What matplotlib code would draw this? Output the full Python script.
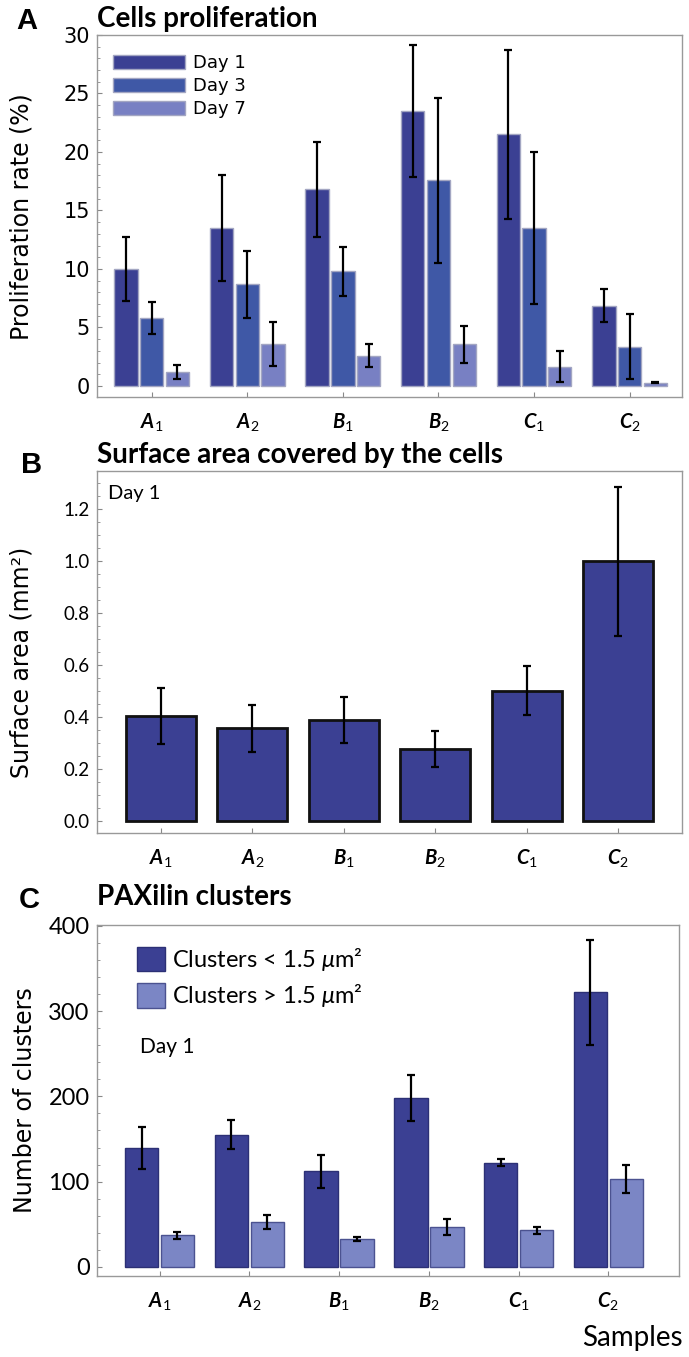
import matplotlib

matplotlib.use('Agg')
import matplotlib.pyplot as plt
from matplotlib.patches import Patch
from matplotlib.ticker import MultipleLocator, FormatStrFormatter
import numpy as np

# Fonts: DejaVu stands in for Verdana, Lato for Calibri
plt.rcParams['font.family'] = ['DejaVu Sans']
plt.rcParams['mathtext.fontset'] = 'custom'
plt.rcParams['mathtext.rm'] = 'Lato'
plt.rcParams['mathtext.it'] = 'Lato:italic'
plt.rcParams['mathtext.bf'] = 'Lato:bold'
plt.rcParams['mathtext.bfit'] = 'Lato:bold:italic'

# Data
samples = ['A1', 'A2', 'B1', 'B2', 'C1', 'C2']
sample_labels = [r'$\mathbfit{A}_{\mathrm{1}}$', r'$\mathbfit{A}_{\mathrm{2}}$',
                 r'$\mathbfit{B}_{\mathrm{1}}$', r'$\mathbfit{B}_{\mathrm{2}}$',
                 r'$\mathbfit{C}_{\mathrm{1}}$', r'$\mathbfit{C}_{\mathrm{2}}$']

# Panel A: proliferation rate (%)
prolif_day1 = [10.0, 13.5, 16.8, 23.5, 21.5, 6.85]
prolif_day1_err = [2.7, 4.5, 4.05, 5.65, 7.2, 1.4]
prolif_day3 = [5.8, 8.7, 9.8, 17.6, 13.5, 3.35]
prolif_day3_err = [1.4, 2.85, 2.1, 7.05, 6.5, 2.77]
prolif_day7 = [1.2, 3.6, 2.6, 3.55, 1.65, 0.28]
prolif_day7_err = [0.6, 1.9, 0.95, 1.6, 1.3, 0.07]
day_labels = ['Day 1', 'Day 3', 'Day 7']

# Panel B: surface area (mm2), day 1
area = [0.405, 0.356, 0.388, 0.276, 0.501, 1.0]
area_err = [0.108, 0.09, 0.09, 0.07, 0.094, 0.288]

# Panel C: paxilin clusters, day 1
clusters_small = [139, 155, 112, 198, 122, 322]
clusters_small_err = [24.7, 17, 19, 27.2, 4.2, 61.7]
clusters_large = [37, 53, 33, 47, 43, 103.5]
clusters_large_err = [4, 8, 2.6, 9, 4.2, 16.3]
cluster_labels = [r'Clusters < 1.5 $\mu$m²', r'Clusters > 1.5 $\mu$m²']

# Colours
DARK = '#3b4093'
MID = '#3f58a6'
LIGHT = '#7880c3'
LIGHT_C = '#7b86c5'
FRAME = '#999999'
CALIBRI = 'Lato'

W, H = 689, 1357


def axesRect(left, top, right, bottom):
    # pixel box -> figure fraction
    return [left / W, 1 - bottom / H, (right - left) / W, (bottom - top) / H]


def styleAxes(ax, major, minor, tick_font, tick_size):
    for sp in ax.spines.values():
        sp.set_color(FRAME)
        sp.set_linewidth(1.0)
    ax.yaxis.set_major_locator(MultipleLocator(major))
    ax.yaxis.set_minor_locator(MultipleLocator(minor))
    ax.tick_params(axis='both', which='major', direction='in', color='#888888',
                   length=3.5, width=0.8, right=False, top=False)
    ax.tick_params(axis='both', which='minor', direction='in', color='#888888',
                   length=2, width=0.6, right=False, top=False)
    ax.tick_params(axis='y', which='major', pad=5, labelsize=tick_size)
    for lab in ax.get_yticklabels():
        lab.set_family(tick_font)
    ax.set_xticks(np.arange(len(samples)))
    ax.set_xticklabels(sample_labels, fontsize=14.5)
    ax.tick_params(axis='x', which='major', pad=10)


def panelTitle(ax, text, dy):
    ax.annotate(text, (0, 1), (0, dy), xycoords='axes fraction', textcoords='offset pixels',
                ha='left', va='baseline', fontsize=20, fontweight='bold', family=CALIBRI)


def panelLetter(fig, letter, x, y):
    fig.text(x / W, 1 - y / H, letter, ha='left', va='baseline', fontsize=21,
             fontweight='bold', family='Liberation Sans')


fig = plt.figure(figsize=(W / 100, H / 100), dpi=100)
x = np.arange(len(samples))
err_kw = dict(ecolor='black', elinewidth=1.6, capsize=2.6, capthick=1.6)

# ---- Panel A
axA = fig.add_axes(axesRect(96.7, 35, 681.7, 397.3))
bw = 0.244
off = 0.269
series = [(prolif_day1, prolif_day1_err, DARK), (prolif_day3, prolif_day3_err, MID),
          (prolif_day7, prolif_day7_err, LIGHT)]
handles = []
for i, (vals, errs, col) in enumerate(series):
    axA.bar(x + (i - 1) * off, vals, bw, color=col, edgecolor='#a3a6c2', linewidth=1.0,
            yerr=errs, error_kw=err_kw, zorder=2)
    handles.append(Patch(facecolor=col, edgecolor='#a3a6c2', linewidth=1.0, label=day_labels[i]))
axA.set_xlim(-0.575, 5.544)
axA.set_ylim(-0.97, 30)
styleAxes(axA, 5, 1, 'DejaVu Sans', 15)
axA.set_ylabel('Proliferation rate (%)', fontsize=17)
axA.yaxis.set_label_coords(-0.108, 0.5)
axA.legend(handles=handles, loc='upper left', bbox_to_anchor=(0.028, 0.947), frameon=False,
           fontsize=13, handlelength=4.0, handleheight=0.82, labelspacing=0.27,
           handletextpad=0.45, borderpad=0, borderaxespad=0)
panelTitle(axA, 'Cells proliferation', 8)
panelLetter(fig, 'A', 16, 29)

# ---- Panel B
axB = fig.add_axes(axesRect(96.7, 470.7, 682.3, 832.7))
axB.bar(x, area, 0.77, color=DARK, edgecolor='#111111', linewidth=2.0,
        yerr=area_err, error_kw=err_kw, zorder=2)
axB.set_xlim(-0.70, 5.70)
axB.set_ylim(-0.046, 1.349)
styleAxes(axB, 0.2, 0.05, CALIBRI, 13.5)
axB.yaxis.set_major_formatter(FormatStrFormatter('%.1f'))
axB.set_ylabel('Surface area (mm²)', fontsize=17)
axB.yaxis.set_label_coords(-0.108, 0.47)
axB.annotate('Day 1', (0, 1), (11, -28), xycoords='axes fraction', textcoords='offset pixels',
             ha='left', va='baseline', fontsize=14.5, family=CALIBRI)
panelTitle(axB, 'Surface area covered by the cells', 8)
panelLetter(fig, 'B', 21, 473)

# ---- Panel C
axC = fig.add_axes(axesRect(96.7, 925, 679.3, 1275.7))
cw = 0.373
coff = 0.2
axC.bar(x - coff, clusters_small, cw, color=DARK, edgecolor='#2c3075', linewidth=1.0,
        yerr=clusters_small_err, error_kw=err_kw, zorder=2)
axC.bar(x + coff, clusters_large, cw, color=LIGHT_C, edgecolor='#4b5290', linewidth=1.0,
        yerr=clusters_large_err, error_kw=err_kw, zorder=2)
axC.set_xlim(-0.70, 5.79)
axC.set_ylim(-10.3, 401)
styleAxes(axC, 100, 20, CALIBRI, 17)
axC.set_ylabel('Number of clusters', fontsize=17)
axC.yaxis.set_label_coords(-0.102, 0.5)
c_handles = [Patch(facecolor=DARK, edgecolor='#2c3075', label=cluster_labels[0]),
             Patch(facecolor=LIGHT_C, edgecolor='#4b5290', label=cluster_labels[1])]
axC.legend(handles=c_handles, loc='upper left', bbox_to_anchor=(0.0685, 0.94),
           frameon=False, prop={'family': CALIBRI, 'size': 17},
           handlelength=1.2, handleheight=1.2, labelspacing=0.4,
           handletextpad=0.32, borderpad=0, borderaxespad=0)
axC.annotate('Day 1', (0, 1), (43, -128), xycoords='axes fraction', textcoords='offset pixels',
             ha='left', va='baseline', fontsize=15, family=CALIBRI)
panelTitle(axC, 'PAXilin clusters', 20)
panelLetter(fig, 'C', 19, 908)

fig.text(682.7 / W, 1 - 1346 / H, 'Samples', ha='right', va='baseline', fontsize=20,
         family=CALIBRI)

fig.savefig('out.png', dpi=100)
